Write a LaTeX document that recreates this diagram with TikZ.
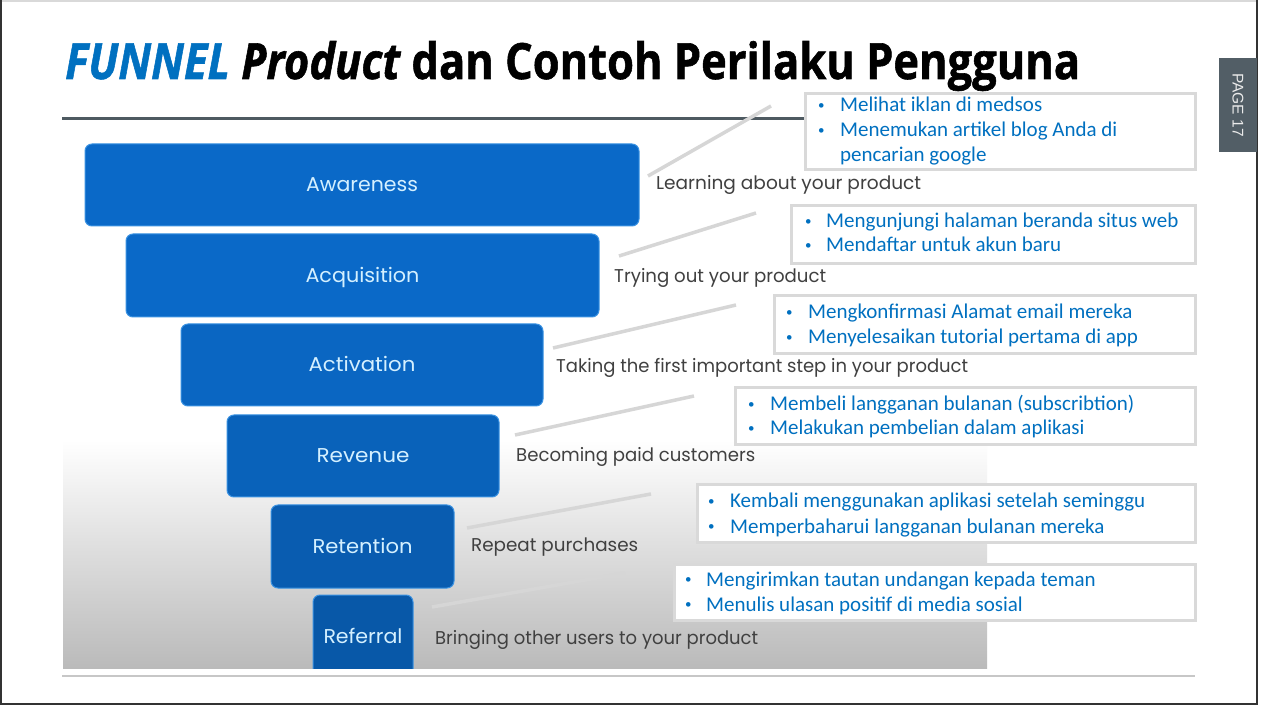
\documentclass[tikz,border=0pt]{standalone}
\usepackage{fontspec}
\setmainfont{Carlito}
\newfontfamily\titlefont{Open Sans}[BoldFeatures={FakeBold=1.2},BoldItalicFeatures={FakeBold=1.2}]
\newfontfamily\gothic{Poppins}
\newfontfamily\tabfont{Liberation Sans}
\definecolor{funblue}{HTML}{0070C0}
\definecolor{boxblue}{HTML}{0A69C8}
\definecolor{boxedge}{HTML}{3A92E2}
\definecolor{lbl}{HTML}{D4F0FF}
\definecolor{gtext}{HTML}{404040}
\definecolor{conncol}{HTML}{D6D6D6}
\definecolor{framegray}{HTML}{D9D9D9}
\definecolor{rulecol}{HTML}{4E5A61}
\definecolor{tabcol}{HTML}{525E66}
\newcommand{\bul}{\raisebox{2.6pt}{\fontsize{13}{13}\selectfont •}}
\tikzset{
  funbox/.style={draw=boxedge, line width=1pt, fill=boxblue, rounded corners=7pt, inner sep=0pt,
    text=lbl, font=\gothic\fontsize{20}{24}\selectfont, text height=14pt, text depth=0pt},
  stagelbl/.style={anchor=base west, inner sep=0pt, text=gtext, font=\gothic\fontsize{18.5}{22}\selectfont},
  bulletbox/.style={draw=framegray, line width=3pt, fill=white, inner sep=0pt, anchor=north west},
  bline/.style={anchor=base west, inner sep=0pt, text=funblue, font=\fontsize{21}{25}\selectfont},
  connline/.style={draw=conncol, line width=3.5pt}
}
\begin{document}
\begin{tikzpicture}[x=1pt,y=-1pt]
\useasboundingbox (0,0) rectangle (1262,708);
\fill[white] (0,0) rectangle (1262,708);
% frame
\draw[framegray, line width=2pt] (0,1) -- (1257,1);
\draw[black!80, line width=2.5pt] (1,0) -- (1,704) -- (1257,704) -- (1257,0);
% screenshot gradient
\shade[top color=white, bottom color=black!27] (63,440) rectangle (987,668);
% rules
\draw[rulecol, line width=3pt] (62,119) -- (1197,119);
\draw[black!22, line width=2pt] (62,676) -- (1195,676);
% connectors
\coordinate (a1) at (648,176); \coordinate (b1) at (771,106);
\coordinate (a2) at (619,256); \coordinate (b2) at (756,213);
\coordinate (a3) at (553,348); \coordinate (b3) at (736,305);
\coordinate (a4) at (515,435); \coordinate (b4) at (694,396);
\coordinate (a5) at (467,528); \coordinate (b5) at (651,494);
\coordinate (a6) at (432,607); \coordinate (b6) at (625,573);
\foreach \i in {1,...,6} {\draw[connline] (a\i) -- (b\i);}
% funnel boxes
\node[funbox, minimum width=554, minimum height=82] (aw) at (362,185) {\resizebox{112pt}{\height}{Awareness}};
\node[funbox, minimum width=473, minimum height=83] (ac) at (362.5,275.5) {\resizebox{114pt}{\height}{Acquisition}};
\node[funbox, minimum width=362, minimum height=82, fill=boxblue!97!black] (at) at (362,365) {\resizebox{107pt}{\height}{Activation}};
\node[funbox, minimum width=272, minimum height=82, fill=boxblue!93!black] (rv) at (363,456) {\resizebox{93pt}{\height}{Revenue}};
\node[funbox, minimum width=183, minimum height=83, fill=boxblue!88!black] (rt) at (362.5,546.5) {\resizebox{100pt}{\height}{Retention}};
\begin{scope}
\clip (0,0) rectangle (1262,668);
\node[funbox, minimum width=100, minimum height=82, fill=boxblue!84!black] (rf) at (363,636) {\resizebox{79pt}{\height}{Referral}};
\end{scope}
% stage labels
\node[stagelbl] (l1) at (656,190) {\resizebox{265pt}{\height}{Learning about your product}};
\node[stagelbl] (l2) at (614,283) {\resizebox{212pt}{\height}{Trying out your product}};
\node[stagelbl] (l3) at (556,373) {\resizebox{412pt}{\height}{Taking the first important step in your product}};
\node[stagelbl] (l4) at (516,462) {\resizebox{239pt}{\height}{Becoming paid customers}};
\node[stagelbl] (l5) at (471,551) {\resizebox{167pt}{\height}{Repeat purchases}};
\node[stagelbl] (l6) at (435,644) {\resizebox{323pt}{\height}{Bringing other users to your product}};
% bullet boxes
\node[bulletbox, minimum width=390, minimum height=76] (bx1) at (804,92) {};
\node[bulletbox, minimum width=404, minimum height=58] (bx2) at (790,204) {};
\node[bulletbox, minimum width=421, minimum height=58] (bx3) at (773,294) {};
\node[bulletbox, minimum width=460, minimum height=57] (bx4) at (734,386) {};
\node[bulletbox, minimum width=498, minimum height=58] (bx5) at (696,483) {};
\node[bulletbox, minimum width=521, minimum height=56] (bx6) at (673,563) {};
% bullet texts
\node[bline] (d11) at (818,112) {\bul}; \node[bline] (t11) at (840,112) {Melihat iklan di medsos};
\node[bline] (d12) at (818,137) {\bul}; \node[bline] (t12) at (840,137) {Menemukan artikel blog Anda di};
\node[bline] (t13) at (840,162) {pencarian google};
\node[bline] (d21) at (805,228) {\bul}; \node[bline] (t21) at (826,228) {Mengunjungi halaman beranda situs web};
\node[bline] (d22) at (805,252) {\bul}; \node[bline] (t22) at (826,252) {Mendaftar untuk akun baru};
\node[bline] (d31) at (786,319) {\bul}; \node[bline] (t31) at (808,319) {Mengkonfirmasi Alamat email mereka};
\node[bline] (d32) at (786,344) {\bul}; \node[bline] (t32) at (808,344) {Menyelesaikan tutorial pertama di app};
\node[bline] (d41) at (748,411) {\bul}; \node[bline] (t41) at (770,411) {Membeli langganan bulanan (subscribtion)};
\node[bline] (d42) at (748,435) {\bul}; \node[bline] (t42) at (770,435) {Melakukan pembelian dalam aplikasi};
\node[bline] (d51) at (708,508) {\bul}; \node[bline] (t51) at (730,508) {Kembali menggunakan aplikasi setelah seminggu};
\node[bline] (d52) at (708,533) {\bul}; \node[bline] (t52) at (730,533) {Memperbaharui langganan bulanan mereka};
\node[bline] (d61) at (685,586) {\bul}; \node[bline] (t61) at (706,586) {Mengirimkan tautan undangan kepada teman};
\node[bline] (d62) at (685,611) {\bul}; \node[bline] (t62) at (706,611) {Menulis ulasan positif di media sosial};
% page tab
\node[fill=tabcol, rotate=-90, minimum width=94, minimum height=38, inner sep=0pt, text=white!92!black,
  font=\tabfont\fontsize{15.5}{18}\selectfont] (tab) at (1238,105) {PAGE 17};
% title
\node[anchor=base west, inner sep=0pt] (title) at (65,79) {\resizebox{1015pt}{\height}{\titlefont\fontsize{50}{60}\selectfont\bfseries\itshape\color{funblue}FUNNEL \color{black}Product \upshape dan Contoh Perilaku Pengguna}};
\end{tikzpicture}
\end{document}
